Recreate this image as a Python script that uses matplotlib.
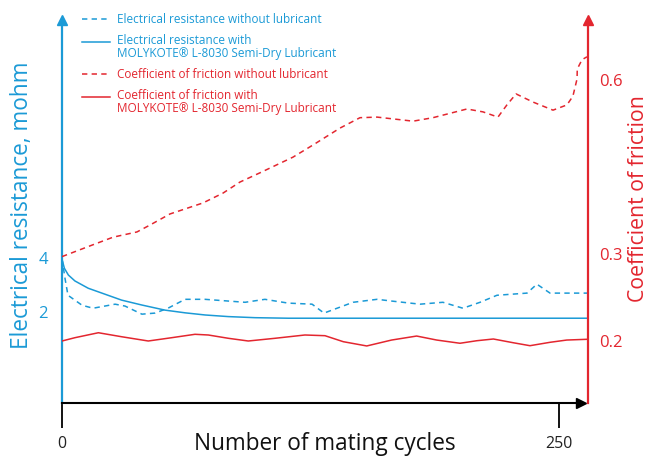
import matplotlib
matplotlib.use('Agg')
import matplotlib.pyplot as plt
from matplotlib.legend_handler import HandlerLine2D
import numpy as np

plt.rcParams['font.family'] = ['Open Sans', 'DejaVu Sans']

blue = '#1b9ad6'
red = '#e3262f'

# electrical resistance without lubricant (mohm)
er_dry_x = [0, 1.5, 3.0, 10.1, 15.6, 26.7, 31.7, 40.2, 46.8, 53.3, 61.9, 71.9, 92.1,
            102.1, 113.7, 125.8, 131.8, 146.4, 158.5, 166.5, 180.1, 191.6, 201.7,
            210.3, 218.8, 233.9, 238.9, 245.5, 264.6]
er_dry_y = [3.98, 3.25, 2.62, 2.25, 2.14, 2.29, 2.22, 1.92, 1.96, 2.14, 2.47, 2.47, 2.36,
            2.47, 2.33, 2.29, 1.96, 2.36, 2.47, 2.40, 2.29, 2.36, 2.14,
            2.36, 2.62, 2.70, 3.03, 2.70, 2.70]

# electrical resistance with MOLYKOTE L-8030
er_lub_x = [0, 1.2, 3.2, 6.5, 13.2, 21.6, 30.0, 40.1, 51.8, 61.9, 72.0, 83.7, 97.1,
            113.8, 130.6, 264.6]
er_lub_y = [3.95, 3.62, 3.37, 3.15, 2.88, 2.66, 2.44, 2.26, 2.07, 1.97, 1.89, 1.83, 1.79,
            1.77, 1.77, 1.77]

# coefficient of friction without lubricant
cof_dry_x = [0, 14.1, 25.7, 37.7, 44.3, 54.3, 70.9, 81.0, 89.5, 99.6, 116.2, 126.3,
             139.8, 149.9, 158.5, 176.6, 186.6, 203.7, 211.8, 219.3, 223.8, 228.4,
             236.9, 247.0, 254.0, 257.0, 259.1, 259.2, 261.6, 264.1]
cof_dry_y = [0.297, 0.314, 0.329, 0.338, 0.350, 0.369, 0.388, 0.405, 0.424, 0.440,
             0.467, 0.488, 0.517, 0.535, 0.536, 0.529, 0.535, 0.550, 0.545, 0.536,
             0.557, 0.576, 0.562, 0.548, 0.557, 0.572, 0.602, 0.619, 0.635, 0.640]

# coefficient of friction with MOLYKOTE L-8030
cof_lub_x = [0, 6.5, 18.3, 30.0, 43.4, 55.2, 66.9, 73.6, 83.7, 93.7, 107.1, 122.2,
             132.3, 141.5, 153.3, 165.8, 178.4, 188.5, 200.2, 208.6, 217.0, 227.0,
             235.4, 245.5, 253.9, 264.6]
cof_lub_y = [0.200, 0.2038, 0.2095, 0.2049, 0.200, 0.2038, 0.2077, 0.2069, 0.2031,
             0.200, 0.2031, 0.2069, 0.2061, 0.1992, 0.1943, 0.2011, 0.2057, 0.2011,
             0.1974, 0.2003, 0.2023, 0.1980, 0.1946, 0.1985, 0.2011, 0.2020]

x_ticks = [0, 250]
er_ticks = [2, 4]
cof_ticks = [0.2, 0.3, 0.6]


def fwd(v):
    v = np.asarray(v, dtype=float)
    return np.where(v <= 0.3, v, 0.3 + (v - 0.3) * 2 / 3)


def inv(u):
    u = np.asarray(u, dtype=float)
    return np.where(u <= 0.3, u, 0.3 + (u - 0.3) * 1.5)


class TopLine(HandlerLine2D):
    # put the legend line next to the first row of a two-row label
    def create_artists(self, legend, orig_handle, xdescent, ydescent, width, height,
                       fontsize, trans):
        return super().create_artists(legend, orig_handle, xdescent,
                                      ydescent - 1.05 * fontsize, width, height,
                                      fontsize, trans)


fig = plt.figure(figsize=(6.5, 4.57), dpi=100)
ax = fig.add_axes([62 / 650, 54 / 457, 526 / 650, 378 / 457])
ax2 = ax.twinx()

dash = (0, (3.5, 2.8))
l1, = ax.plot(er_dry_x, er_dry_y, color=blue, lw=1.1, ls=dash,
              label='Electrical resistance without lubricant')
l2, = ax.plot(er_lub_x, er_lub_y, color=blue, lw=1.1,
              label='Electrical resistance with\nMOLYKOTE® L-8030 Semi-Dry Lubricant')
l3, = ax2.plot(cof_dry_x, cof_dry_y, color=red, lw=1.1, ls=dash,
               label='Coefficient of friction without lubricant')
l4, = ax2.plot(cof_lub_x, cof_lub_y, color=red, lw=1.1,
               label='Coefficient of friction with\nMOLYKOTE® L-8030 Semi-Dry Lubricant')

ax.set_xlim(0, 264.6)
ax.set_ylim(-1.37, 12.63)
ax2.set_yscale('function', functions=(fwd, inv))
ax2.set_ylim(0.12874, 0.6948)

for a in (ax, ax2):
    a.spines['top'].set_visible(False)
ax.spines['right'].set_visible(False)
ax2.spines['left'].set_visible(False)
ax2.spines['bottom'].set_visible(False)
ax.spines['left'].set_color(blue)
ax.spines['left'].set_linewidth(1.6)
ax2.spines['right'].set_color(red)
ax2.spines['right'].set_linewidth(1.6)
ax.spines['bottom'].set_linewidth(1.5)
ax.spines['bottom'].set_bounds(0, 258.5)

ax.set_xticks(x_ticks)
ax.tick_params(axis='x', direction='out', length=18, width=1.3, color='black',
               labelsize=11.5, pad=6, labelcolor='#222222')
ax.set_yticks(er_ticks)
ax.tick_params(axis='y', length=0, pad=10, labelsize=12, labelcolor=blue)
ax2.set_yticks(cof_ticks)
ax2.set_yticklabels(['0.2', '0.3', '0.6'])
ax2.yaxis.set_minor_locator(matplotlib.ticker.NullLocator())
ax2.tick_params(axis='y', length=0, pad=8, labelsize=12, labelcolor=red)

# arrow heads
ax.plot([0], [1 + 5 / 378], marker='^', ms=7.5, color=blue, transform=ax.transAxes, clip_on=False)
ax.plot([1], [1 + 5 / 378], marker='^', ms=7.5, color=red, transform=ax.transAxes, clip_on=False)
ax.plot([519 / 526], [0], marker='>', ms=7.5, color='black', transform=ax.transAxes, clip_on=False)

ax.set_xlabel('Number of mating cycles', fontsize=16.3, color='#111111')
ax.xaxis.label.set_va('center')
ax.xaxis.set_label_coords(0.5, (403 - 444) / 378)
ax.set_ylabel('Electrical resistance, mohm', fontsize=16.3, color=blue)
ax.yaxis.label.set_va('center')
ax.yaxis.set_label_coords((22 - 62) / 526, (403 - 205) / 378)
ax2.set_ylabel('Coefficient of friction', fontsize=15.3, color=red, rotation=90)
ax2.yaxis.label.set_va('center')
ax2.yaxis.set_label_coords((639 - 62) / 526, (403 - 199) / 378)

top = TopLine()
leg = fig.legend(handles=[l1, l2, l3, l4], loc='upper left',
                 bbox_to_anchor=(82 / 650, 1 - 13 / 457), bbox_transform=fig.transFigure,
                 frameon=False, fontsize=8.5, handlelength=2.37, handletextpad=0.6,
                 labelspacing=0.66, borderpad=0, borderaxespad=0, labelcolor='linecolor',
                 handler_map={l2: top, l4: top})
for t in leg.get_texts():
    t.set_linespacing(1.05)

fig.savefig('out.png', dpi=100)
